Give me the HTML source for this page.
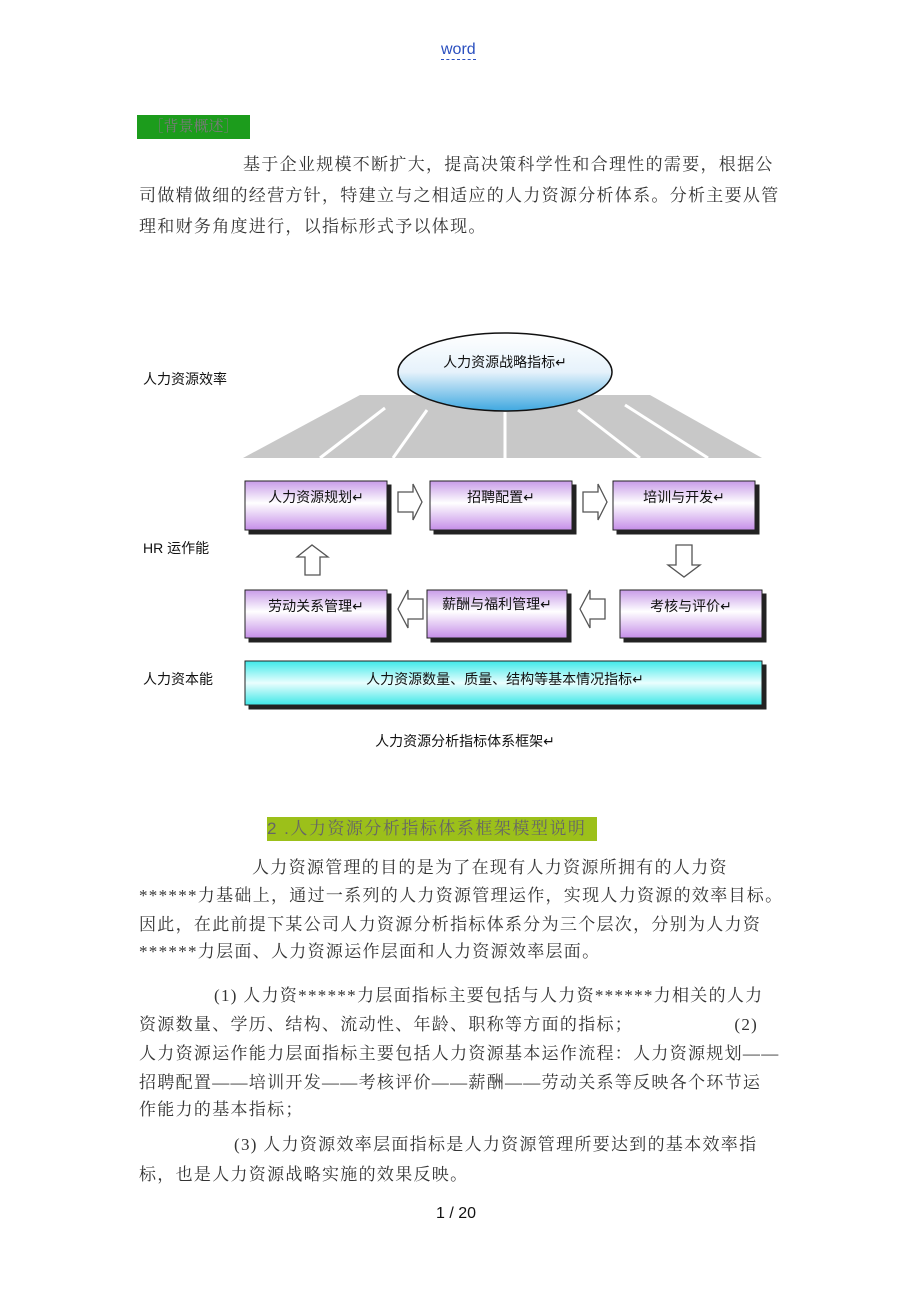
<!DOCTYPE html>
<html><head><meta charset="utf-8">
<style>
body{margin:0;width:920px;height:1302px;background:#fff;position:relative;overflow:hidden;font-family:"Liberation Serif","Noto Serif CJK SC","Noto Sans CJK SC",serif;color:#333}
.l{position:absolute;font-size:17px;line-height:20px;white-space:nowrap;letter-spacing:1.3px}
.s{font-family:"Liberation Sans","Noto Sans CJK SC",sans-serif;letter-spacing:0}
</style></head><body>
<div style="position:absolute;left:441px;top:41px;font-family:'Liberation Sans',sans-serif;font-size:16px;color:#2a4fbf;border-bottom:1px dashed #2a4fbf;line-height:18px">word</div>
<div style="position:absolute;left:137px;top:115px;width:113px;height:24px;background:#1c9c1c;color:#7a7a7a;font-size:15px;line-height:24px;text-align:center">［背景概述］</div>
<div class="l" style="left:243px;top:155px">基于企业规模不断扩大，提高决策科学性和合理性的需要，根据公</div>
<div class="l" style="left:139px;top:186px">司做精做细的经营方针，特建立与之相适应的人力资源分析体系。分析主要从管</div>
<div class="l" style="left:139px;top:217px">理和财务角度进行，以指标形式予以体现。</div>

<svg style="position:absolute;left:0;top:0" width="920" height="1302">
<defs>
<linearGradient id="p" x1="0" y1="0" x2="0" y2="1"><stop offset="0" stop-color="#c89be8"/><stop offset=".45" stop-color="#fff"/><stop offset="1" stop-color="#c58ee8"/></linearGradient>
<linearGradient id="c" x1="0" y1="0" x2="0" y2="1"><stop offset="0" stop-color="#3ee8e8"/><stop offset=".5" stop-color="#eafefe"/><stop offset="1" stop-color="#3ee8e8"/></linearGradient>
<linearGradient id="e" x1="0" y1="0" x2="0" y2="1"><stop offset="0" stop-color="#fff"/><stop offset=".5" stop-color="#e6f2fb"/><stop offset="1" stop-color="#3fa8e0"/></linearGradient>
</defs>
<polygon points="360,395 650,395 762,458 243,458" fill="#c8c8c8"/>
<g stroke="#fff" stroke-width="3">
<line x1="385" y1="408" x2="320" y2="458"/><line x1="427" y1="410" x2="393" y2="458"/>
<line x1="505" y1="412" x2="505" y2="458"/><line x1="578" y1="410" x2="640" y2="458"/><line x1="625" y1="405" x2="708" y2="458"/>
</g>
<ellipse cx="505" cy="372" rx="107" ry="39" fill="url(#e)" stroke="#111" stroke-width="1.5"/>
<g stroke="#222" stroke-width="1">
<rect x="249" y="485" width="142" height="49" fill="#222"/><rect x="245" y="481" width="142" height="49" fill="url(#p)"/>
<rect x="434" y="485" width="142" height="49" fill="#222"/><rect x="430" y="481" width="142" height="49" fill="url(#p)"/>
<rect x="617" y="485" width="142" height="49" fill="#222"/><rect x="613" y="481" width="142" height="49" fill="url(#p)"/>
<rect x="249" y="594" width="142" height="48" fill="#222"/><rect x="245" y="590" width="142" height="48" fill="url(#p)"/>
<rect x="431" y="594" width="140" height="48" fill="#222"/><rect x="427" y="590" width="140" height="48" fill="url(#p)"/>
<rect x="624" y="594" width="142" height="48" fill="#222"/><rect x="620" y="590" width="142" height="48" fill="url(#p)"/>
<rect x="249" y="665" width="517" height="44" fill="#222"/><rect x="245" y="661" width="517" height="44" fill="url(#c)"/>
</g>
<g fill="#fff" stroke="#555" stroke-width="1.3">
<polygon points="398,492 413,492 413,484 422,502 413,520 413,512 398,512"/>
<polygon points="583,492 598,492 598,484 607,502 598,520 598,512 583,512"/>
<polygon points="676,545 692,545 692,565 700,565 684,577 668,565 676,565"/>
<polygon points="305,575 320,575 320,557 328,557 312,545 297,557 305,557"/>
<polygon points="423,599 408,599 408,590 398,609 408,628 408,619 423,619"/>
<polygon points="605,599 590,599 590,590 580,609 590,628 590,619 605,619"/>
</g>
<g font-family="Liberation Sans,Noto Sans CJK SC,sans-serif" font-size="14" fill="#111">
<text x="143" y="384">人力资源效率</text>
<text x="143" y="553">HR 运作能</text>
<text x="143" y="684">人力资本能</text>
<text x="505" y="367" text-anchor="middle">人力资源战略指标↵</text>
<text x="316" y="502" text-anchor="middle">人力资源规划↵</text>
<text x="501" y="502" text-anchor="middle">招聘配置↵</text>
<text x="684" y="502" text-anchor="middle">培训与开发↵</text>
<text x="316" y="611" text-anchor="middle">劳动关系管理↵</text>
<text x="497" y="609" text-anchor="middle">薪酬与福利管理↵</text>
<text x="691" y="611" text-anchor="middle">考核与评价↵</text>
<text x="505" y="684" text-anchor="middle">人力资源数量、质量、结构等基本情况指标↵</text>
<text x="465" y="746" text-anchor="middle">人力资源分析指标体系框架↵</text>
</g>
</svg>

<div style="position:absolute;left:267px;top:817px;width:330px;height:24px;background:#9cc01a;color:#666;font-size:17px;line-height:24px;letter-spacing:1.5px;white-space:nowrap;font-family:'Liberation Sans','Noto Serif CJK SC',sans-serif">2 .人力资源分析指标体系框架模型说明</div>
<div class="l" style="left:252px;top:858px">人力资源管理的目的是为了在现有人力资源所拥有的人力资</div>
<div class="l" style="left:139px;top:886px">******力基础上，通过一系列的人力资源管理运作，实现人力资源的效率目标。</div>
<div class="l" style="left:139px;top:915px">因此，在此前提下某公司人力资源分析指标体系分为三个层次，分别为人力资</div>
<div class="l" style="left:139px;top:942px">******力层面、人力资源运作层面和人力资源效率层面。</div>
<div class="l" style="left:214px;top:986px">(1) 人力资******力层面指标主要包括与人力资******力相关的人力</div>
<div class="l" style="left:139px;top:1015px">资源数量、学历、结构、流动性、年龄、职称等方面的指标；&#12288;&#12288;&#12288;&#12288;&#12288;&#12288;(2)</div>
<div class="l" style="left:139px;top:1044px">人力资源运作能力层面指标主要包括人力资源基本运作流程：人力资源规划——</div>
<div class="l" style="left:139px;top:1073px">招聘配置——培训开发——考核评价——薪酬——劳动关系等反映各个环节运</div>
<div class="l" style="left:139px;top:1100px">作能力的基本指标；</div>
<div class="l" style="left:234px;top:1135px">(3) 人力资源效率层面指标是人力资源管理所要达到的基本效率指</div>
<div class="l" style="left:139px;top:1165px">标，也是人力资源战略实施的效果反映。</div>
<div style="position:absolute;left:436px;top:1205px;font-family:'Liberation Sans',sans-serif;font-size:16px;color:#111">1 / 20</div>
</body></html>
